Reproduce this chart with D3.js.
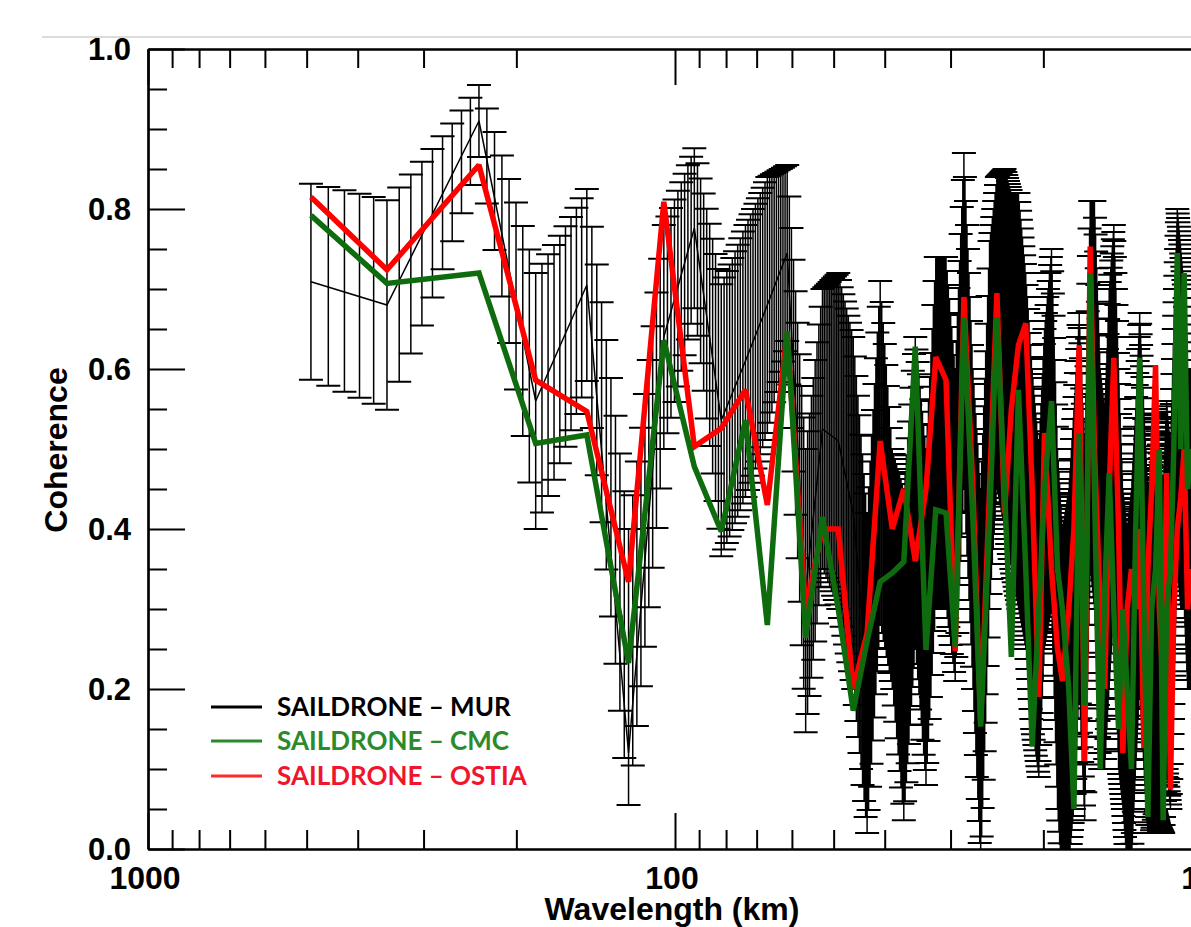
<!DOCTYPE html>
<html>
<head>
<meta charset='utf-8' />
<title>Saildrone coherence</title>
<script src="https://d3js.org/d3.v7.min.js"></script>
<style>
body { margin: 0; padding: 0; background: #fff; }
#chart { position: absolute; top: 0; left: 0; width: 1191px; height: 927px; overflow: hidden; }
.tickLabel { font-family: 'Liberation Sans', Arial, sans-serif; font-weight: bold; fill: #000; }
.axisTitle { font-family: 'Liberation Sans', Arial, sans-serif; font-weight: bold; font-size: 32px; fill: #000; }
.legendText { font-family: Lato, 'Open Sans', sans-serif; font-weight: bold; font-size: 26px; }
</style>
</head>
<body>
<div id='chart'></div>
<script>

// wavelength (km) of each spectral estimate
var wavelength = [490.7, 352, 235.5, 183.8, 147, 122.5, 105, 91.9, 81.7, 73.5, 66.8, 61.25,
  56.5, 52.5, 49.0, 45.9, 43.2, 40.8, 38.7, 36.8, 35.0, 33.4, 32.0, 30.6, 29.4, 28.3, 27.2,
  26.3, 25.3, 24.5, 23.7, 23.0, 22.3, 21.6, 21.0, 20.4, 19.9, 19.3, 18.8, 18.4, 17.9, 17.5,
  17.1, 16.7, 16.3, 16.0, 15.6, 15.3, 15.0, 14.7, 14.4, 14.13, 13.87, 13.61, 13.36, 13.13,
  12.89, 12.67, 12.46, 12.25, 12.05, 11.85, 11.67, 11.48, 11.31, 11.14, 10.97, 10.81, 10.65, 10.5];

// SAILDRONE - MUR coherence
var mur = [0.709, 0.68, 0.91, 0.56, 0.705, 0.12, 0.64, 0.776, 0.536, 0.61, 0.68, 0.745,
  0.323, 0.525, 0.51, 0.42, 0.22, 0.495, 0.35, 0.243, 0.445, 0.29, 0.52, 0.52, 0.405, 0.66, 0.40,
  0.215, 0.53, 0.645, 0.625, 0.585, 0.56, 0.485, 0.375, 0.295, 0.45, 0.525, 0.275, 0.175, 0.215, 0.30,
  0.435, 0.268, 0.58, 0.555, 0.35, 0.325, 0.45, 0.54, 0.35, 0.25, 0.19, 0.215, 0.325, 0.435,
  0.325, 0.235, 0.25, 0.30, 0.265, 0.235, 0.33, 0.275, 0.425, 0.575, 0.525, 0.50, 0.40, 0.40];

// bottom and top of the MUR error bars
var murLow = [0.5865, 0.549, 0.865, 0.40, 0.585, 0.055, 0.50, 0.676, 0.366, 0.44, 0.52, 0.635,
  0.146, 0.35, 0.30, 0.20, 0.02, 0.28, 0.20, 0.036, 0.25, 0.08, 0.30, 0.30, 0.21, 0.45, 0.20,
  -0.02, 0.30, 0.45, 0.40, 0.35, 0.30, 0.25, 0.15, 0.09, 0.25, 0.30, 0.05, -0.05, -0.02, 0.05,
  0.20, 0.036, 0.35, 0.30, 0.10, 0.10, 0.20, 0.30, 0.10, 0.05, -0.02, -0.02, 0.10, 0.20,
  0.10, 0.02, 0.02, 0.05, 0.03, 0.02, 0.10, 0.05, 0.20, 0.35, 0.30, 0.30, 0.20, 0.20];
var murHigh = [0.8315, 0.811, 0.955, 0.72, 0.825, 0.40, 0.78, 0.876, 0.706, 0.78, 0.84, 0.855,
  0.50, 0.70, 0.72, 0.64, 0.42, 0.71, 0.50, 0.45, 0.64, 0.50, 0.74, 0.74, 0.60, 0.87, 0.60,
  0.45, 0.76, 0.84, 0.85, 0.82, 0.82, 0.72, 0.60, 0.50, 0.65, 0.75, 0.50, 0.40, 0.45, 0.55,
  0.67, 0.50, 0.81, 0.81, 0.60, 0.55, 0.70, 0.78, 0.60, 0.45, 0.40, 0.45, 0.55, 0.67,
  0.55, 0.45, 0.48, 0.55, 0.50, 0.45, 0.56, 0.50, 0.65, 0.80, 0.75, 0.70, 0.60, 0.60];

// SAILDRONE - CMC
var cmc = [0.792, 0.707, 0.72, 0.507, 0.5175, 0.2325, 0.636, 0.478, 0.397, 0.536, 0.28, 0.647,
  0.264, 0.415, 0.30, 0.173, 0.26, 0.334, 0.345, 0.359, 0.628, 0.249, 0.424, 0.42, 0.253, 0.664, 0.41,
  0.153, 0.41, 0.665, 0.45, 0.24, 0.574, 0.35, 0.128, 0.30, 0.45, 0.56, 0.35, 0.30, 0.2, 0.05,
  0.52, 0.18, 0.72, 0.45, 0.1, 0.32, 0.47, 0.3, 0.15, 0.3, 0.2, 0.10, 0.4, 0.614,
  0.3, 0.04, 0.3, 0.35, 0.50, 0.036, 0.3, 0.35, 0.5, 0.745, 0.5, 0.72, 0.45, 0.5];

// SAILDRONE - OSTIA
var ostia = [0.815, 0.724, 0.855, 0.586, 0.547, 0.334, 0.809, 0.503, 0.526, 0.574, 0.43, 0.645,
  0.30, 0.40, 0.40, 0.20, 0.27, 0.51, 0.40, 0.45, 0.36, 0.45, 0.615, 0.586, 0.247, 0.69, 0.45,
  0.16, 0.45, 0.695, 0.42, 0.55, 0.63, 0.657, 0.45, 0.19, 0.52, 0.35, 0.25, 0.21, 0.3, 0.4,
  0.63, 0.11, 0.753, 0.5, 0.3, 0.2, 0.45, 0.614, 0.4, 0.12, 0.3, 0.35, 0.3, 0.4,
  0.126, 0.35, 0.45, 0.605, 0.3, 0.2, 0.47, 0.074, 0.3, 0.4, 0.44, 0.5, 0.3, 0.35];

var xMajor = [1000, 100, 10];
var xMinor = [900, 800, 700, 600, 500, 400, 300, 200, 90, 80, 70, 60, 50, 40, 30, 20];
var yMajor = [0, 0.2, 0.4, 0.6, 0.8, 1.0];
var yMinor = [0.05, 0.1, 0.15, 0.25, 0.3, 0.35, 0.45, 0.5, 0.55, 0.65, 0.7, 0.75, 0.85, 0.9, 0.95];

var legendNames = ['SAILDRONE \u2013 MUR', 'SAILDRONE \u2013 CMC', 'SAILDRONE \u2013 OSTIA'];
var legendLine = ['#000000', '#2b8a2b', '#ff2a2a'];
var legendColor = ['#000000', '#2b8a2b', '#f0142d'];

// error bars are drawn ~8.5 per spectral step, as the original plot does
var barsPerStep = 8.5;

var W = 1191, H = 927;
var pL = 148, pR = 1202, pT = 49, pB = 849;

var svg = d3.select('#chart')
  .append('svg')
    .attr('width', W)
    .attr('height', H);

var x = d3.scaleLog().domain([1000, 10]).range([pL, pR]);
var y = d3.scaleLinear().domain([0, 1]).range([pB, pT]);

// faint page rule at the top
svg.append('line')
  .attr('x1', 42).attr('x2', W)
  .attr('y1', 37).attr('y2', 37)
  .attr('stroke', '#dcdcdc').attr('stroke-width', 2);

svg.append('defs').append('clipPath')
    .attr('id', 'clip')
  .append('rect')
    .attr('x', pL).attr('y', pT)
    .attr('width', pR - pL).attr('height', pB - pT);

var plot = svg.append('g').attr('clip-path', 'url(#clip)');

//////////
// ERROR BARS //
//////////

var freq = wavelength.map(function(w) { return 1 / w; });
var lowAt = d3.scaleLinear().domain(freq).range(murLow);
var highAt = d3.scaleLinear().domain(freq).range(murHigh);
var stepF = 1 / wavelength[13] - 1 / wavelength[12];

var barF = [];
for (var i = 0; i < freq.length - 1; i++) {
  var n = Math.max(1, Math.round((freq[i + 1] - freq[i]) / stepF * barsPerStep));
  for (var j = 0; j < n; j++) barF.push(freq[i] + (freq[i + 1] - freq[i]) * j / n);
}
barF.push(freq[freq.length - 1]);

var stems = '', caps = '';
barF.forEach(function(f) {
  var bx = x(1 / f), y0 = y(lowAt(f)), y1 = y(highAt(f));
  stems += 'M' + bx + ',' + y0 + 'V' + y1;
  caps += 'M' + (bx - 12) + ',' + y0 + 'H' + (bx + 12) + 'M' + (bx - 12) + ',' + y1 + 'H' + (bx + 12);
});

plot.append('path').attr('d', stems)
  .attr('fill', 'none').attr('stroke', '#000').attr('stroke-width', 1.5);
plot.append('path').attr('d', caps)
  .attr('fill', 'none').attr('stroke', '#000').attr('stroke-width', 2);

//////////
// LINES //
//////////

function drawSeries(values, color, w) {
  var line = d3.line()
    .x(function(d, i) { return x(wavelength[i]); })
    .y(function(d) { return y(d); });
  plot.append('path')
    .datum(values)
    .attr('d', line)
    .attr('fill', 'none')
    .attr('stroke', color)
    .attr('stroke-width', w)
    .attr('stroke-linejoin', 'miter')
    .attr('stroke-miterlimit', 2);
}

drawSeries(mur, '#000000', 1.5);
drawSeries(ostia, '#ff0000', 5.5);
drawSeries(cmc, '#0e6b0e', 5.5);

//////////
// AXES //
//////////

function styleAxis(g) {
  g.selectAll('path').attr('stroke', '#000').attr('stroke-width', 2.2);
  g.selectAll('line').attr('stroke', '#000').attr('stroke-width', 2);
  g.selectAll('text').remove();
}

svg.append('g').attr('transform', 'translate(0,' + pB + ')')
  .call(d3.axisTop(x).tickValues(xMinor).tickSize(19).tickSizeOuter(0)).call(styleAxis);
svg.append('g').attr('transform', 'translate(0,' + pB + ')')
  .call(d3.axisTop(x).tickValues(xMajor).tickSize(36).tickSizeOuter(0)).call(styleAxis);
svg.append('g').attr('transform', 'translate(0,' + pT + ')')
  .call(d3.axisBottom(x).tickValues(xMinor).tickSize(19).tickSizeOuter(0)).call(styleAxis);
svg.append('g').attr('transform', 'translate(0,' + pT + ')')
  .call(d3.axisBottom(x).tickValues(xMajor).tickSize(36).tickSizeOuter(0)).call(styleAxis);
svg.append('g').attr('transform', 'translate(' + pL + ',0)')
  .call(d3.axisRight(y).tickValues(yMinor).tickSize(19).tickSizeOuter(0)).call(styleAxis);
svg.append('g').attr('transform', 'translate(' + pL + ',0)')
  .call(d3.axisRight(y).tickValues(yMajor).tickSize(37).tickSizeOuter(0)).call(styleAxis);

svg.selectAll('.ylab')
  .data(yMajor)
  .enter()
  .append('text')
    .attr('class', 'tickLabel')
    .attr('x', 131)
    .attr('y', function(d) { return y(d) + 11; })
    .attr('text-anchor', 'end')
    .style('font-size', '31px')
    .text(function(d) { return d3.format('.1f')(d); });

svg.selectAll('.xlab')
  .data(xMajor)
  .enter()
  .append('text')
    .attr('class', 'tickLabel')
    .attr('x', function(d) { return x(d) - 3; })
    .attr('y', 889)
    .attr('text-anchor', 'middle')
    .style('font-size', '32px')
    .text(function(d) { return d; });

svg.append('text')
  .attr('class', 'axisTitle')
  .attr('x', 672)
  .attr('y', 920)
  .attr('text-anchor', 'middle')
  .text('Wavelength (km)');

svg.append('text')
  .attr('class', 'axisTitle')
  .attr('transform', 'translate(67,450) rotate(-90)')
  .attr('text-anchor', 'middle')
  .text('Coherence');

//////////
// LEGEND //
//////////

var rowY = [707, 741, 776];

svg.selectAll('.legLine')
  .data(legendNames)
  .enter()
  .append('line')
    .attr('x1', 211).attr('x2', 262)
    .attr('y1', function(d, i) { return rowY[i]; })
    .attr('y2', function(d, i) { return rowY[i]; })
    .attr('stroke', function(d, i) { return legendLine[i]; })
    .attr('stroke-width', 3);

svg.selectAll('.legText')
  .data(legendNames)
  .enter()
  .append('text')
    .attr('class', 'legendText')
    .attr('x', 277)
    .attr('y', function(d, i) { return rowY[i]; })
    .attr('dy', '0.36em')
    .style('fill', function(d, i) { return legendColor[i]; })
    .text(function(d) { return d; });

</script>
</body>
</html>
